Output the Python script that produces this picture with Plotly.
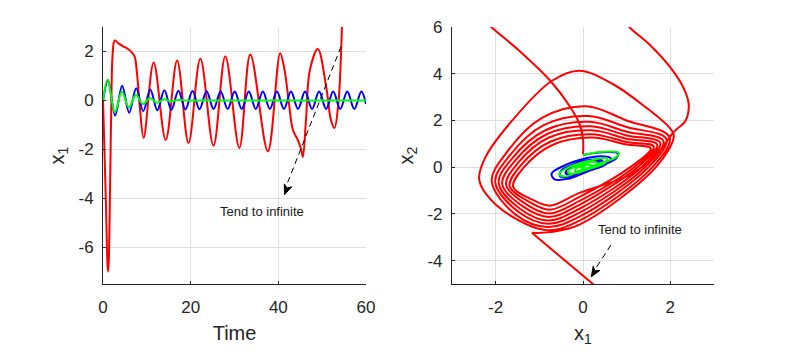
import plotly.graph_objects as go

# ==========================================================
# Data
# ==========================================================

# time series of x1 for the three runs
time_red = [0, 0.6, 1.0, 1.15, 1.3, 1.6, 1.9, 2.2, 2.65, 3.6, 4.7, 5.7, 6.6, 7.2, 7.8,
            8.36, 9.27, 11.55, 14.3, 16.9, 19.5, 22.2, 25.2, 27.9, 31.1, 33.6, 37.6,
            40.4, 41.4, 42.4, 43.3, 44.4, 45.2, 45.6, 46.3, 47.2, 49.0, 50.9, 52.0,
            52.8, 53.7, 54.3, 54.5, 54.7]
x1_red = [0, -3.8, -6.6, -7.0, -6.6, -3.6, 0.0, 1.9, 2.45, 2.32, 2.2, 2.1, 1.95, 1.8, 1.0,
          -0.2, -1.53, 1.55, -1.62, 1.63, -1.74, 1.71, -1.85, 1.8, -1.94, 1.88, -2.08,
          1.93, 1.25, -0.1, -1.2, -1.6, -2.0, -2.31, -0.8, 1.25, 2.1, 0.57, -0.8,
          -1.13, -0.1, 1.93, 3.0, 5.0]

time_blue = [0, 1.15, 2.75, 4.36, 5.96, 7.57, 9.17, 10.78, 12.38, 13.99, 15.59, 17.2,
             18.8, 20.41, 22.01, 23.62, 25.22, 26.83, 28.43, 30.04, 31.64, 33.25,
             34.85, 36.46, 38.06, 39.67, 41.27, 42.88, 44.48, 46.09, 47.69, 49.3,
             50.9, 52.51, 54.11, 55.72, 57.32, 58.93, 60.0]
x1_blue = [0, 0.82, -0.62, 0.6, -0.5, 0.5, -0.44, 0.45, -0.4, 0.42, -0.38, 0.4,
           -0.37, 0.38, -0.36, 0.37, -0.35, 0.36, -0.35, 0.36, -0.35, 0.36,
           -0.35, 0.36, -0.35, 0.36, -0.35, 0.36, -0.35, 0.36, -0.35, 0.36,
           -0.35, 0.36, -0.35, 0.36, -0.35, 0.36, -0.15]

time_green = [0, 1.05, 2.7, 4.3, 5.9, 7.5, 9.1, 10.7, 12.3, 13.9, 15.5, 17.1, 19.0, 25.0, 60.0]
x1_green = [0, 0.85, -0.48, 0.35, -0.28, 0.22, -0.15, 0.1, -0.1, 0.05, -0.04, 0.02, 0.0, 0.0, 0.0]

# phase portrait, red run: start leaving the window
ph_red_start_x1 = [0.0, 0.0, -0.08, -0.3, -0.75, -1.47, -2.1, -2.25]
ph_red_start_x2 = [0.55, 1.2, 1.85, 2.6, 3.7, 5.0, 6.0, 6.3]

# phase portrait, red run: re-entry and growing loops
ph_red_loop_x1 = [
    0.95, 1.06, 1.55, 2.0, 2.3, 2.42, 2.35, 2.08, 1.67, 1.05, -0.08,
    -0.75, -1.15, -1.60, -1.35, -0.70, 0.20, 1.00, 1.55, 1.08, -0.08,
    -0.76, -1.22, -1.68, -1.42, -0.74, 0.20, 1.00, 1.62, 1.17, -0.08,
    -0.77, -1.28, -1.76, -1.49, -0.78, 0.20, 1.00, 1.70, 1.25, -0.08,
    -0.78, -1.35, -1.85, -1.56, -0.82, 0.18, 1.00, 1.77, 1.34, -0.08,
    -0.79, -1.42, -1.93, -1.63, -0.86, 0.15, 1.00, 1.84, 1.42, -0.08,
    -0.80, -1.48, -2.01, -1.70, -0.90, 0.12, 1.00, 1.91, 1.50, -0.08,
    -0.81, -1.55, -2.09, -1.78, -0.95, 0.08, 1.00, 1.98, 1.59, -0.08,
    -0.82, -1.62, -2.23, -2.38, -2.23, -1.62, -0.71, -0.08, 0.68, 1.44, 1.97, 2.08, 1.67, -0.08,
    -0.75, -1.17]
ph_red_loop_x2 = [
    6.3, 6.0, 5.2, 4.27, 3.4, 2.7, 2.0, 1.51, 0.51, -0.35, -1.1,
    -1.65, -1.40, -0.84, 0.00, 0.95, 1.27, 0.97, 0.80, 0.0, -1.27,
    -1.82, -1.50, -0.80, 0.09, 1.10, 1.41, 1.08, 0.88, 0.0, -1.44,
    -1.98, -1.61, -0.76, 0.18, 1.27, 1.58, 1.22, 0.96, 0.0, -1.61,
    -2.13, -1.71, -0.72, 0.27, 1.42, 1.75, 1.36, 1.04, 0.0, -1.78,
    -2.28, -1.81, -0.68, 0.36, 1.58, 1.94, 1.52, 1.12, 0.0, -1.95,
    -2.42, -1.91, -0.64, 0.45, 1.80, 2.19, 1.72, 1.20, 0.0, -2.12,
    -2.56, -2.02, -0.60, 0.55, 2.10, 2.61, 2.00, 1.28, 0.0, -2.29,
    -2.70, -2.12, -1.12, -0.48, 0.44, 2.0, 3.7, 4.13, 3.56, 2.56, 1.71, 1.35, 0.0, -2.46,
    -2.78, -2.81]

# phase portrait, red run: escape
ph_red_escape_x1 = [-1.17, 0.23, 0.4]
ph_red_escape_x2 = [-2.81, -5.0, -5.27]

ph_blue_x1 = [0.0, 0.45, 0.8, 0.75, 0.4, 0.0, -0.35, -0.65, -0.72, -0.42, 0.0, 0.4, 0.64,
              0.52, 0.15, -0.25, -0.52, -0.5, -0.2, 0.2, 0.44, 0.37, 0.05, -0.25, -0.4,
              -0.27, 0.05, 0.35, 0.42, 0.2, -0.1, -0.36, -0.35, -0.05, 0.3, 0.42]
ph_blue_x2 = [0.52, 0.64, 0.58, 0.36, 0.06, -0.26, -0.5, -0.52, -0.28, 0.08, 0.35, 0.47, 0.38,
              0.12, -0.15, -0.4, -0.4, -0.15, 0.14, 0.32, 0.28, 0.05, -0.18, -0.34, -0.25,
              0.0, 0.19, 0.26, 0.13, -0.07, -0.26, -0.31, -0.11, 0.12, 0.26, 0.15]

ph_green_x1 = [0.0, 0.45, 0.82, 0.75, 0.35, -0.1, -0.42, -0.55, -0.3, 0.2, 0.55, 0.5, 0.15,
               -0.25, -0.35, -0.1, 0.25, 0.35, 0.1, -0.18, -0.15, 0.1, 0.2, 0.05, -0.05, 0.05]
ph_green_x2 = [0.52, 0.66, 0.62, 0.42, 0.14, -0.18, -0.4, -0.3, 0.02, 0.3, 0.38, 0.18, -0.07,
               -0.28, -0.18, 0.07, 0.23, 0.13, -0.06, -0.18, -0.05, 0.1, 0.06, -0.06, -0.02, 0.02]

# ticks
time_ticks = [0, 20, 40, 60]
x1_ticks_left = [-6, -4, -2, 0, 2]
phase_x1_ticks = [-2, 0, 2]
phase_x2_ticks = [-4, -2, 0, 2, 4, 6]


# ==========================================================
# Figure
# ==========================================================

FONT = "Arial, Liberation Sans, sans-serif"
INK = "#262626"
GRID = "#dfdfdf"

fig = go.Figure()

line_w = 2

for tx, ty, col in [
    (time_red, x1_red, "#ff0000"),
    (time_blue, x1_blue, "#0000ff"),
    (time_green, x1_green, "#00ff00"),
]:
    fig.add_trace(go.Scatter(
        x=tx, y=ty, mode="lines",
        line=dict(color=col, width=line_w, shape="spline"),
        xaxis="x", yaxis="y", showlegend=False
    ))

fig.add_trace(go.Scatter(
    x=ph_red_start_x1, y=ph_red_start_x2, mode="lines",
    line=dict(color="#ff0000", width=line_w, shape="spline"),
    xaxis="x2", yaxis="y2", showlegend=False
))
fig.add_trace(go.Scatter(
    x=ph_red_loop_x1, y=ph_red_loop_x2, mode="lines",
    line=dict(color="#ff0000", width=line_w, shape="spline"),
    xaxis="x2", yaxis="y2", showlegend=False
))
fig.add_trace(go.Scatter(
    x=ph_red_escape_x1, y=ph_red_escape_x2, mode="lines",
    line=dict(color="#ff0000", width=line_w),
    xaxis="x2", yaxis="y2", showlegend=False
))
fig.add_trace(go.Scatter(
    x=ph_blue_x1, y=ph_blue_x2, mode="lines",
    line=dict(color="#0000ff", width=line_w, shape="spline"),
    xaxis="x2", yaxis="y2", showlegend=False
))
fig.add_trace(go.Scatter(
    x=ph_green_x1, y=ph_green_x2, mode="lines",
    line=dict(color="#00ff00", width=line_w, shape="spline"),
    xaxis="x2", yaxis="y2", showlegend=False
))


def axis_style(rng, ticks, domain, anchor, title, standoff, label_gap):
    return dict(
        range=rng,
        domain=domain,
        anchor=anchor,
        automargin=False,
        tickvals=ticks,
        ticktext=[str(t) for t in ticks],
        showline=True,
        linecolor=INK,
        linewidth=1,
        mirror=False,
        ticks="inside",
        ticklen=3,
        tickcolor=INK,
        showgrid=True,
        gridcolor=GRID,
        gridwidth=1,
        zeroline=False,
        ticklabelstandoff=label_gap,
        tickfont=dict(family=FONT, size=17, color=INK),
        title=dict(text=title, standoff=standoff,
                   font=dict(family=FONT, size=20, color=INK)),
    )


# the page body adds an 8 px offset, so the domains are measured from there
y_dom = [0.2269, 0.9468]

fig.update_layout(
    width=790,
    height=357,
    autosize=False,
    margin=dict(l=0, r=0, t=0, b=0),
    paper_bgcolor="white",
    plot_bgcolor="white",
    xaxis=axis_style([0, 60], time_ticks, [0.1203, 0.4532], "y", "Time", 9, 8),
    yaxis=axis_style([-7.5, 3], x1_ticks_left, y_dom, "x", "x<sub>1</sub>", 8, 5),
    xaxis2=axis_style([-3, 3], phase_x1_ticks, [0.5620, 0.8937], "y2", "x<sub>1</sub>", 9, 8),
    yaxis2=axis_style([-5, 6], phase_x2_ticks, y_dom, "x2", "x<sub>2</sub>", 8, 5),
)

# dashed arrow bodies
fig.add_shape(type="line", xref="x", yref="y", x0=54.3, y0=2.2, x1=41.8, y1=-3.5,
              line=dict(color="black", width=1, dash="6px,4px"))
fig.add_shape(type="line", xref="x2", yref="y2", x0=0.64, y0=-3.33, x1=0.26, y1=-4.42,
              line=dict(color="black", width=1, dash="6px,4px"))

# arrow heads (notched, filled)
fig.add_shape(type="path", xref="x", yref="y",
              path="M 41.4,-3.85 L 43.07,-3.53 L 41.97,-3.58 L 41.36,-3.41 Z",
              fillcolor="black", line=dict(color="black", width=1))
fig.add_shape(type="path", xref="x2", yref="y2",
              path="M 0.19,-4.69 L 0.387,-4.418 L 0.274,-4.436 L 0.233,-4.237 Z",
              fillcolor="black", line=dict(color="black", width=1))

# labels
fig.add_annotation(x=36.3, y=-4.53, xref="x", yref="y", text="Tend to infinite",
                   showarrow=False, font=dict(family=FONT, size=13, color="#1a1a1a"))
fig.add_annotation(x=1.30, y=-2.66, xref="x2", yref="y2", text="Tend to infinite",
                   showarrow=False, font=dict(family=FONT, size=13, color="#1a1a1a"))

fig.write_html("out.html")
